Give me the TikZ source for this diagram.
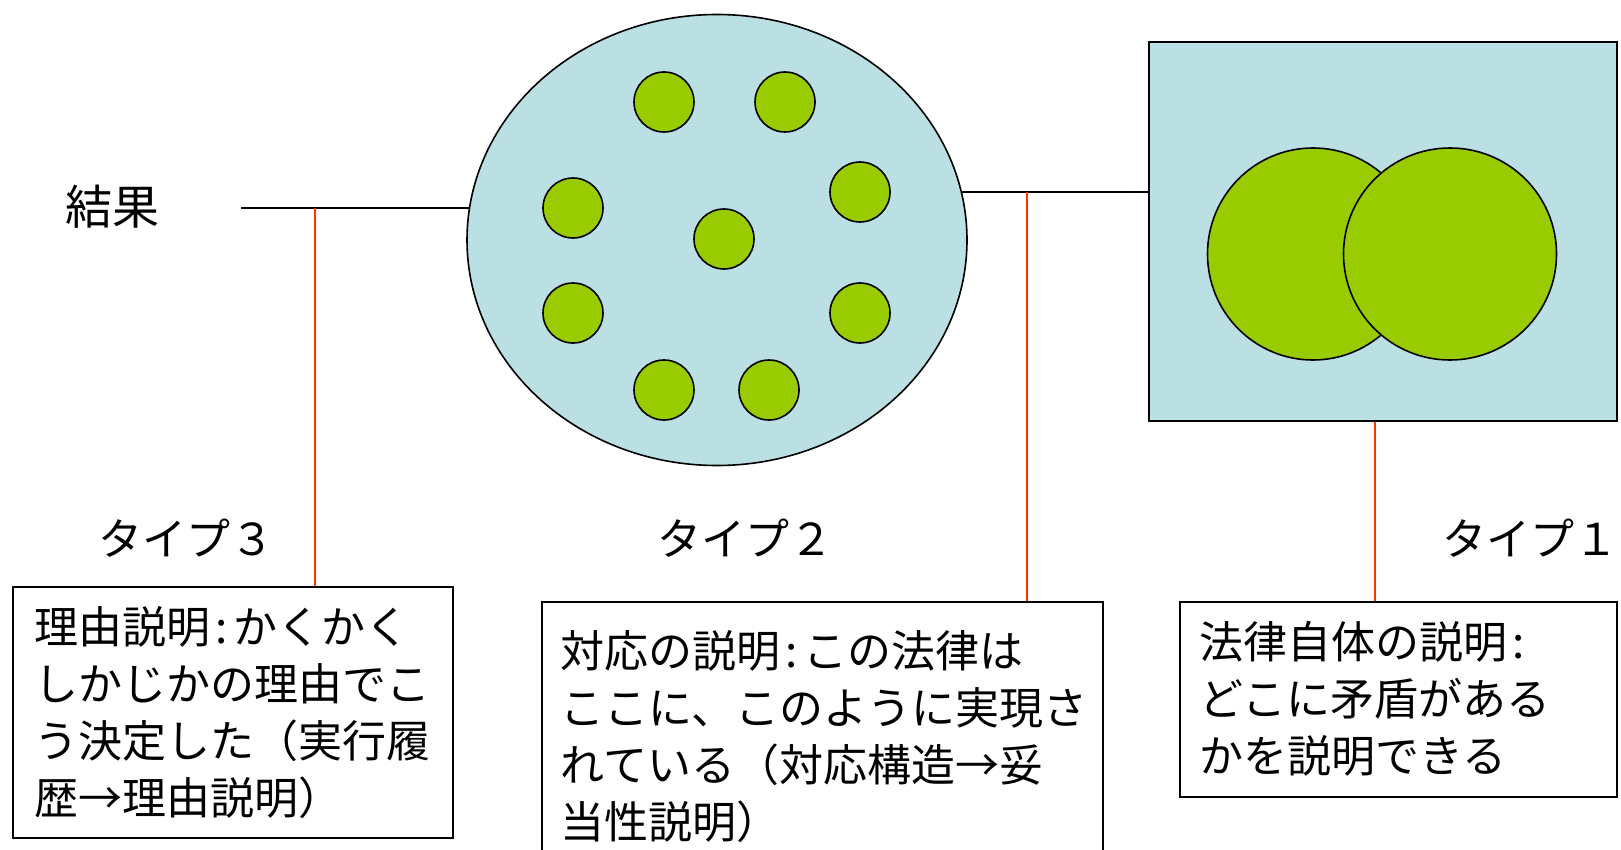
\documentclass[tikz,border=0pt]{standalone}
\usepackage{fontspec}
\newfontfamily\jp{Noto Sans CJK JP}
\usetikzlibrary{shapes.geometric}
\definecolor{paleblue}{HTML}{BBE0E3}
\definecolor{leaf}{HTML}{99CC00}
\definecolor{linkred}{HTML}{FF3300}
\newcommand{\jcolon}{\hspace{5pt}:\hspace{5pt}}
\begin{document}
\begin{tikzpicture}[x=1pt,y=-1pt,
  shapeline/.style={draw=black,line width=1.6pt},
  dot/.style={circle,shapeline,fill=leaf,minimum size=60pt,inner sep=0pt},
  bigdot/.style={ellipse,shapeline,fill=leaf,inner sep=0pt},
  blackline/.style={draw=black,line width=1.8pt},
  redline/.style={draw=linkred,line width=1.3pt},
  label/.style={font=\jp\fontsize{44}{57}\selectfont,inner sep=0pt},
  textbox/.style={draw=black,line width=1.6pt,fill=white,anchor=north west,align=left,
    font=\jp\fontsize{44}{57}\selectfont,inner ysep=0pt}
]
\useasboundingbox (0,0) rectangle (1621,850);

% result label
\node[label,font=\jp\fontsize{47}{57}\selectfont] (res) at (112,207) {結果};

% type 2 system (ellipse)
\node[ellipse,shapeline,fill=paleblue,minimum width=500pt,minimum height=451pt,inner sep=0pt] (sys) at (717,240) {};
\node[dot] (d1) at (664,102) {};
\node[dot] (d2) at (785,102) {};
\node[dot] (d3) at (573,208) {};
\node[dot] (d4) at (860,192) {};
\node[dot] (d5) at (724,239) {};
\node[dot] (d6) at (573,313) {};
\node[dot] (d7) at (860,313) {};
\node[dot] (d8) at (664,390) {};
\node[dot] (d9) at (769,390) {};

% type 1 law (rectangle)
\node[rectangle,shapeline,fill=paleblue,minimum width=468pt,minimum height=379pt,inner sep=0pt,anchor=north west] (law) at (1148,41) {};
\node[bigdot,minimum width=211pt,minimum height=212pt] (c1) at (1313,254) {};
\node[bigdot,minimum width=213pt,minimum height=212pt] (c2) at (1450,254) {};

% type labels
\node[label] (ty3) at (186,538) {タイプ３};
\node[label] (ty2) at (745,538) {タイプ２};
\node[label] (ty1) at (1530,538) {タイプ１};

% text boxes
\node[textbox,minimum width=440pt,minimum height=251pt,inner xsep=22pt,text width=396pt] (box3) at (12,586)
  {理由説明\jcolon かくかく\\しかじかの理由でこ\\う決定した（実行履\\歴→理由説明）};
\node[textbox,minimum width=561pt,minimum height=270pt,inner xsep=19pt,text width=523pt] (box2) at (541,601)
  {対応の説明\jcolon この法律は\\ここに、このように実現さ\\れている（対応構造→妥\\当性説明）};
\node[textbox,minimum width=437pt,minimum height=195pt,inner xsep=20pt,text width=397pt] (box1) at (1179,601)
  {法律自体の説明\hspace{5pt}:\\どこに矛盾がある\\かを説明できる};

% black connectors
\coordinate (ls) at (241,208);
\draw[blackline] (ls) -- (ls -| sys.172.6);
\draw[blackline] (sys.11) -- (sys.11 -| law.west);

% red connectors
\coordinate (t3) at (315,208);
\draw[redline] (t3) -- (t3 |- box3.north);
\coordinate (t2) at (sys.11 -| 1027,0);
\draw[redline] (t2) -- (t2 |- box2.north);
\coordinate (t1) at (law.south -| 1375,0);
\draw[redline] (t1) -- (t1 |- box1.north);
\end{tikzpicture}
\end{document}
